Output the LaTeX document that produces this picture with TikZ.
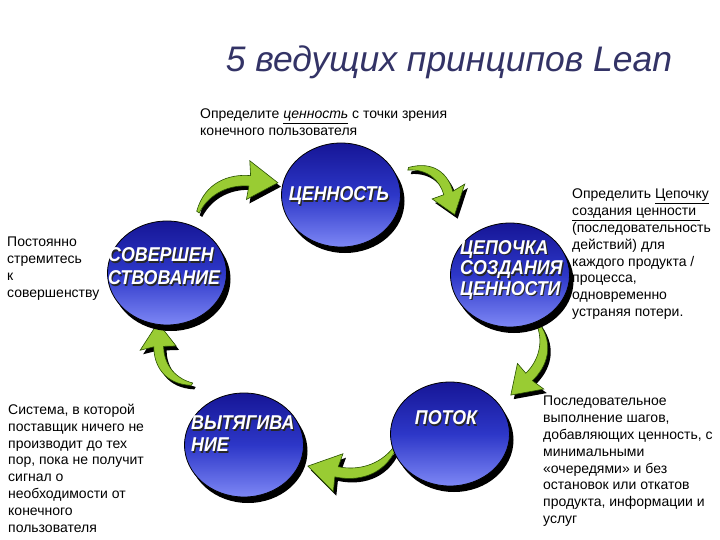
\documentclass[tikz,border=0pt]{standalone}
\usepackage{fontspec}
\usepackage{graphicx}
\setmainfont{Liberation Sans}
\usetikzlibrary{shapes.geometric}
\definecolor{titlec}{RGB}{51,51,102}
\definecolor{agreen}{RGB}{153,204,51}
\definecolor{agreenD}{RGB}{40,80,0}
\definecolor{ctop}{RGB}{22,22,150}
\definecolor{cmid}{RGB}{45,55,200}
\definecolor{cbot}{RGB}{125,135,245}
\tikzset{
  bub/.style={ellipse, draw=black, line width=0.8pt, minimum width=119pt, minimum height=104pt,
    inner sep=0pt, top color=ctop, bottom color=cbot, middle color=cmid},
  bubshadow/.style={ellipse, fill=black, minimum width=119pt, minimum height=104pt, inner sep=0pt},
  ctxt/.style={font=\bfseries\itshape\fontsize{20}{20}\selectfont, text=white, align=left, inner sep=0pt},
  ctxtsh/.style={ctxt, text=black!85},
  note/.style={font=\fontsize{14}{16.8}\selectfont, align=left, anchor=north west, inner sep=0pt},
  ttl/.style={font=\itshape\fontsize{35.5}{40}\selectfont, text=titlec, inner sep=0pt}
}
\newcommand\sq[1]{\scalebox{0.89}[1]{#1}}
\newcommand\arrowshape[1]{%
  \path[#1] (0,-0.01) .. controls (0.2,-0.3) and (0.5,-0.3) .. (0.73,-0.19)
    -- (0.78,-0.36) -- (1,0) -- (0.59,0.06) -- (0.67,-0.08)
    .. controls (0.48,-0.17) and (0.22,-0.17) .. (0.02,0.02) -- cycle;}
\newcommand\garrow[5]{%
  \begin{scope}[shift={({#1+3},{#2+4})},rotate=#3,xscale=#4,yscale=#5]
    \arrowshape{fill=black}
  \end{scope}
  \begin{scope}[shift={(#1,#2)},rotate=#3,xscale=#4,yscale=#5]
    \arrowshape{fill=agreen,draw=agreenD,line width=0.6pt}
  \end{scope}}
\newcommand\ctext[3]{%
  \node[ctxtsh] at ({#1+1.2},{#2+1.2}) {#3};
  \node[ctxt] at (#1,#2) {#3};}
\begin{document}
\begin{tikzpicture}[x=1pt,y=-1pt]
\useasboundingbox (0,0) rectangle (720,540);
\fill[white] (0,0) rectangle (720,540);

% title
\node[ttl, anchor=base] (title) at (449,72) {5 ведущих принципов Lean};

% arrows
\garrow{197}{212}{19.9}{86}{84}
\garrow{408}{168}{-45}{66}{80}
\garrow{538}{322}{-110.4}{78}{80}
\garrow{396}{448}{-168.4}{90}{84}
\garrow{192}{385}{118.7}{71}{80}

% circles
\node[bubshadow] (valS) at (345,201) {};
\node[bub] (val) at (341,195) {};
\node[bubshadow] (perS) at (171,279) {};
\node[bub] (per) at (167,273) {};
\node[bubshadow] (chainS) at (514,281) {};
\node[bub] (chain) at (510,275) {};
\node[bubshadow] (flowS) at (454,440) {};
\node[bub] (flow) at (450,434) {};
\node[bubshadow] (pullS) at (248,451) {};
\node[bub] (pull) at (244,445) {};

% circle texts
\ctext{339}{196}{\sq{ЦЕННОСТЬ}}
\ctext{446}{418}{\sq{ПОТОК}}
\node[ctxtsh, anchor=west, font=\bfseries\itshape\fontsize{20}{23}\selectfont] at (109.2,267.7) {\sq{СОВЕРШЕН}\\\sq{СТВОВАНИЕ}};
\node[ctxt, anchor=west, font=\bfseries\itshape\fontsize{20}{23}\selectfont] at (108,266.5) {\sq{СОВЕРШЕН}\\\sq{СТВОВАНИЕ}};
\node[ctxtsh, anchor=west, font=\bfseries\itshape\fontsize{20}{20.5}\selectfont] at (461.2,271.2) {\sq{ЦЕПОЧКА}\\\sq{СОЗДАНИЯ}\\\sq{ЦЕННОСТИ}};
\node[ctxt, anchor=west, font=\bfseries\itshape\fontsize{20}{20.5}\selectfont] at (460,270) {\sq{ЦЕПОЧКА}\\\sq{СОЗДАНИЯ}\\\sq{ЦЕННОСТИ}};
\node[ctxtsh, anchor=west, font=\bfseries\itshape\fontsize{20}{22}\selectfont] at (192.2,435.2) {\sq{ВЫТЯГИВА}\\\sq{НИЕ}};
\node[ctxt, anchor=west, font=\bfseries\itshape\fontsize{20}{22}\selectfont] at (191,434) {\sq{ВЫТЯГИВА}\\\sq{НИЕ}};

% notes
\node[note] (n1) at (200,109) {Определите \underline{\itshape ценность} с точки зрения\\конечного пользователя};
\node[note] (n2) at (572,189) {Определить \underline{Цепочку}\\\underline{создания ценности }\\(последовательность\\действий) для\\каждого продукта /\\процесса,\\одновременно\\устраняя потери.};
\node[note] (n3) at (7,237) {Постоянно\\стремитесь\\к\\совершенству};
\node[note] (n4) at (8,404) {Система, в которой\\поставщик ничего не\\производит до тех\\пор, пока не получит\\сигнал о\\необходимости от\\конечного\\пользователя};
\node[note] (n5) at (543,396) {Последовательное\\выполнение шагов,\\добавляющих ценность, с\\минимальными\\«очередями» и без\\остановок или откатов\\продукта, информации и\\услуг};
\end{tikzpicture}
\end{document}
